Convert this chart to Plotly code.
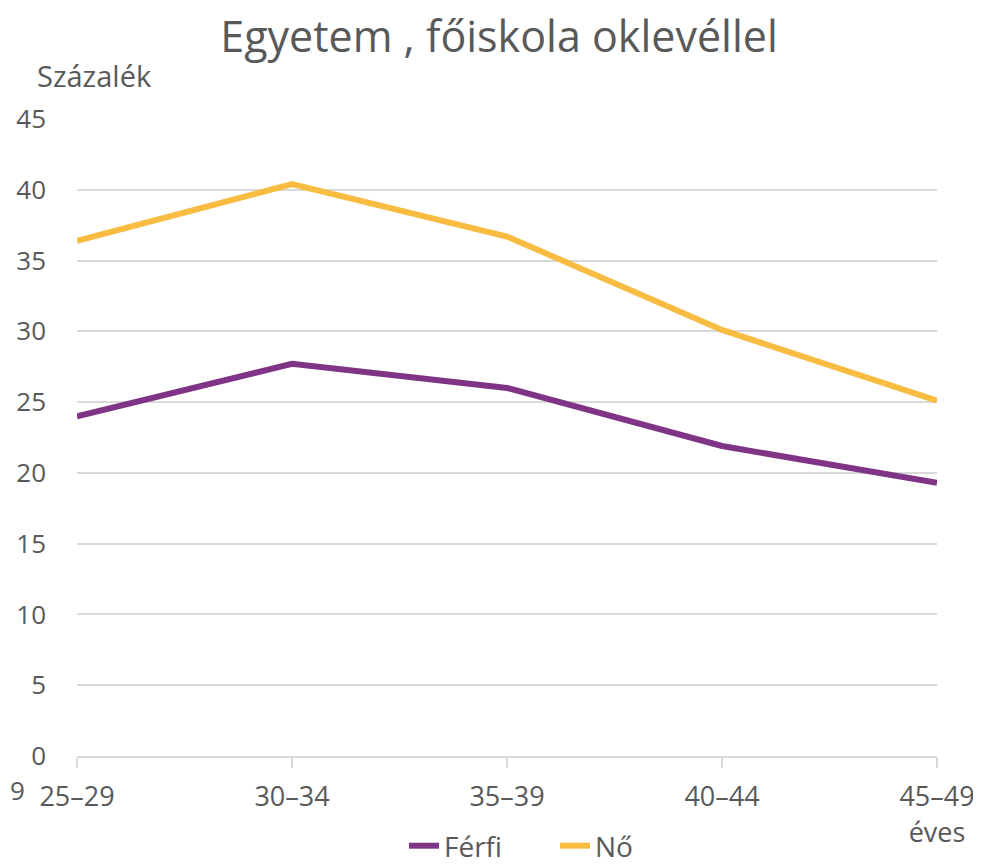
import plotly.graph_objects as go

categories = ["25–29", "30–34", "35–39", "40–44", "45–49"]
tick_labels = ["25–29", "30–34", "35–39", "40–44", "45–49<br>éves"]
ferfi = [24.0, 27.7, 26.0, 21.9, 19.3]
no = [36.4, 40.4, 36.7, 30.1, 25.1]

font_family = "Open Sans, Noto Sans, sans-serif"
txt = "#595959"

fig = go.Figure()
xs = list(range(len(categories)))
fig.add_trace(go.Scatter(x=xs, y=ferfi, mode="lines", name="Férfi",
                         line=dict(color="#7f3486", width=6)))
fig.add_trace(go.Scatter(x=xs, y=no, mode="lines", name="Nő",
                         line=dict(color="#f9bc42", width=6)))

# page body has an 8px margin; the paper starts at viewport (8, 8)
OFF = 8
W, H = 981 - OFF, 868 - OFF
L, R, T, B = 77 - OFF, 981 - 937, 119 - OFF, 868 - 756


def py(vy):
    """viewport y -> container fraction from bottom"""
    return (H - (vy - OFF)) / H


def px(vx):
    return (vx - OFF) / W


fig.update_layout(
    width=W, height=H,
    paper_bgcolor="white", plot_bgcolor="white",
    margin=dict(l=L, r=R, t=T, b=B, autoexpand=False),
    font=dict(family=font_family, color=txt, size=26),
    title=dict(text="Egyetem , főiskola oklevéllel", x=px(499), xanchor="center",
               y=py(37), yanchor="middle", font=dict(size=43, color=txt)),
    showlegend=True,
    legend=dict(orientation="h", xref="container", yref="container",
                x=px(555), xanchor="center", y=py(846), yanchor="middle",
                entrywidth=106, entrywidthmode="pixels",
                font=dict(size=28, color=txt), tracegroupgap=0),
    xaxis=dict(range=[0, 4], tickvals=xs, ticktext=tick_labels, showgrid=False,
               showline=True, linecolor="#d9d9d9", linewidth=2,
               ticks="outside", ticklen=10, tickcolor="#d9d9d9", tickwidth=2,
               zeroline=False, automargin=False, ticklabeloverflow="allow",
               ticklabelstandoff=6, tickfont=dict(size=27, color=txt)),
    yaxis=dict(range=[0, 45], tick0=0, dtick=5, showgrid=True, gridcolor="#d9d9d9",
               gridwidth=1.5, zeroline=False, showline=False, ticks="",
               automargin=False, ticklabeloverflow="allow",
               ticklabelstandoff=30, tickfont=dict(size=26, color=txt)),
)

fig.add_annotation(text="Százalék", xref="paper", yref="paper",
                   x=(35 - 77) / (937 - 77), y=(756 - 75) / (756 - 119),
                   xanchor="left", yanchor="middle", showarrow=False,
                   font=dict(size=29, color=txt))
fig.add_annotation(text="9", xref="paper", yref="paper",
                   x=(OFF - 77) / (937 - 77), y=(756 - 790) / (756 - 119),
                   xanchor="left", yanchor="middle", showarrow=False,
                   font=dict(size=26, color=txt))

fig.write_html("out.html")
